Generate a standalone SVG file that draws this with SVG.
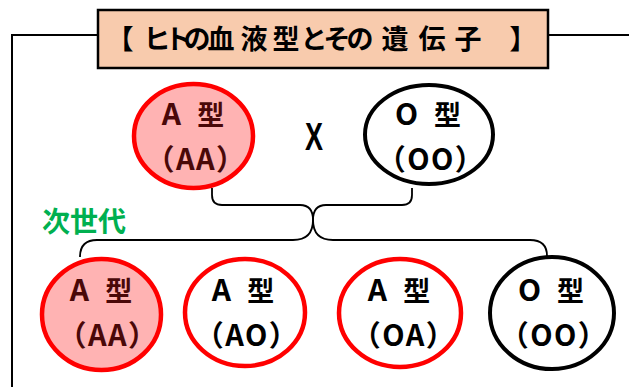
<svg xmlns="http://www.w3.org/2000/svg" width="629" height="387" viewBox="0 0 629 387">
<style>
.frame{fill:none;stroke:#000;stroke-width:2}
.conn{fill:none;stroke:#000;stroke-width:1.8}
.red{stroke:#ff0000;stroke-width:4.5}
.blk{stroke:#000;stroke-width:4;fill:#fff}
.fillA{fill:#ffb3b3}
.fillW{fill:#fff}
.t{font-family:"Noto Sans CJK JP","Liberation Sans",sans-serif;font-weight:700;text-anchor:middle}
.n1{font-size:27px;word-spacing:10px}
.n1 .L{font-size:30px}
.n2{font-size:29px;letter-spacing:1.5px}
.dk{fill:#4a0808}
.bk{fill:#000}
</style>
<rect width="629" height="387" fill="#fff"/>
<g id="frame">
<path class="frame" d="M12,387 L12,35 L98,35 M548,35 L629,35"/>
</g>
<g id="title">
<rect x="98" y="10" width="450" height="58" fill="#f8cbad" stroke="#000" stroke-width="2.5"/>
<text class="t bk" font-size="27" y="49" x="120 157 178 197 221 254 286 314 337 360 395 432 468 523">【ヒトの血液型とその遺伝子】</text>
</g>
<g id="connectors">
<path class="conn" d="M212,188 L212,195 Q212,205 222,205 L300,205 Q313,205 313,220"/>
<path class="conn" d="M412,188 L412,195 Q412,205 402,205 L326,205 Q313,205 313,220"/>
<path class="conn" d="M313,220 Q313,240 293,240 L97,240 Q80,240 80,257"/>
<path class="conn" d="M313,220 Q313,240 333,240 L530,240 Q547,240 547,256"/>
</g>
<g id="parentA">
<ellipse cx="193.5" cy="136" rx="59.5" ry="52" class="red fillA"/>
<text class="t n1 dk" x="193" y="125"><tspan class="L">A</tspan> 型</text>
<text class="t n2 dk" x="196" y="170">（AA）</text>
</g>
<g id="cross">
<text font-family="Liberation Sans,Arial,sans-serif" font-weight="700" font-size="38" text-anchor="middle" transform="translate(314,150) scale(0.71,1)">X</text>
</g>
<g id="parentO">
<ellipse cx="429" cy="134.5" rx="64" ry="49.5" class="blk"/>
<text class="t n1 bk" x="428" y="125"><tspan class="L">O</tspan> 型</text>
<text class="t n2 bk" x="431" y="170">（OO）</text>
</g>
<g id="label">
<text class="t" font-size="28" fill="#00b050" x="84" y="232">次世代</text>
</g>
<g id="childAA">
<ellipse cx="101.5" cy="314.5" rx="59.5" ry="55.5" class="red fillA"/>
<text class="t n1 dk" x="101" y="301"><tspan class="L">A</tspan> 型</text>
<text class="t n2 dk" x="108" y="346">（AA）</text>
</g>
<g id="childAO">
<ellipse cx="245" cy="312.5" rx="60" ry="53.5" class="red fillW"/>
<text class="t n1 bk" x="243" y="301"><tspan class="L">A</tspan> 型</text>
<text class="t n2 bk" x="247" y="346">（AO）</text>
</g>
<g id="childOA">
<ellipse cx="400" cy="313" rx="61" ry="54" class="red fillW"/>
<text class="t n1 bk" x="399" y="301"><tspan class="L">A</tspan> 型</text>
<text class="t n2 bk" x="404" y="346">（OA）</text>
</g>
<g id="childOO">
<ellipse cx="552" cy="313" rx="62" ry="56" class="blk"/>
<text class="t n1 bk" x="551" y="301"><tspan class="L">O</tspan> 型</text>
<text class="t n2 bk" x="554" y="346">（OO）</text>
</g>
</svg>
